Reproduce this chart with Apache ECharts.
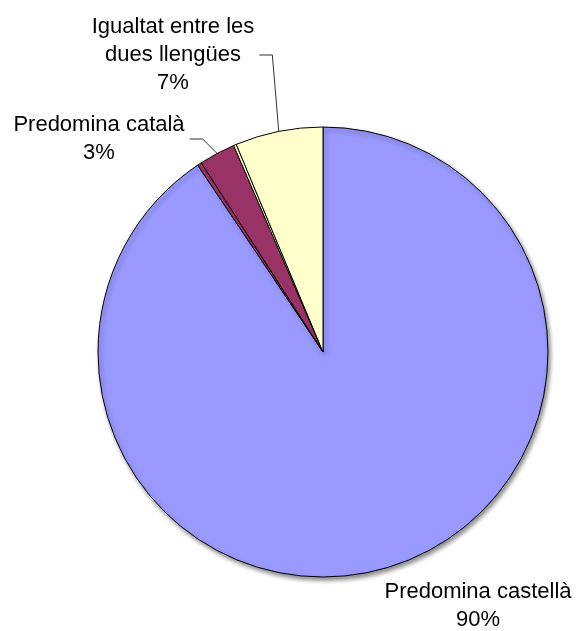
<!DOCTYPE html>
<html>
<head>
<meta charset="utf-8">
<script src="https://cdn.jsdelivr.net/npm/echarts@6/dist/echarts.min.js"></script>
<style>
  html, body { margin: 0; padding: 0; background: #fff; }
  #main { width: 581px; height: 631px; }
</style>
</head>
<body>
<div id="main"></div>
<script>
// dades llegides del gràfic
var names = ['Predomina castellà', 'a', 'Predomina català', 'b', 'Igualtat entre les\ndues llengües'];
var values = [90.6, 0.3, 2.6, 0.2, 6.3];
var pctText = ['90%', '', '3%', '', '7%'];
var colors = ['#9999FF', '#993366', '#993366', '#FFFFCC', '#FFFFCC'];

// posicions de les etiquetes (px)
var labelPos = {
    0: { x: 478, y: 578 },
    2: { x: 99, y: 111 },
    4: { x: 173, y: 13 }
};

var myChart = echarts.init(document.getElementById('main'), null, { renderer: 'canvas' });

var seriesData = names.map(function (n, i) {
    var item = {
        name: n,
        value: values[i],
        itemStyle: { color: colors[i] }
    };
    if (!pctText[i]) {
        item.label = { show: false };
        item.labelLine = { show: false };
    }
    if (i === 0) {
        item.labelLine = { show: false };
        item.itemStyle.shadowBlur = 4;
        item.itemStyle.shadowOffsetX = 2;
        item.itemStyle.shadowOffsetY = 3;
        item.itemStyle.shadowColor = 'rgba(0,0,0,0.45)';
    }
    return item;
});

var option = {
    animation: false,
    series: [{
        type: 'pie',
        center: [323, 352],
        radius: 225,
        startAngle: 90,
        clockwise: true,
        avoidLabelOverlap: false,
        itemStyle: {
            borderColor: '#000',
            borderWidth: 1
        },
        label: {
            show: true,
            position: 'outside',
            fontFamily: 'Liberation Sans, Arial, sans-serif',
            fontSize: 22,
            lineHeight: 28,
            color: '#000',
            padding: [0, 5],
            formatter: function (p) {
                return p.name + '\n' + pctText[p.dataIndex];
            }
        },
        labelLine: {
            show: true,
            length: 10,
            length2: 13,
            lineStyle: { color: '#333', width: 1 }
        },
        labelLayout: function (p) {
            var pos = labelPos[p.dataIndex];
            if (!pos) return {};
            return { x: pos.x, y: pos.y, align: 'center', verticalAlign: 'top' };
        },
        emphasis: { disabled: true },
        data: seriesData
    }]
};

myChart.setOption(option);
</script>
</body>
</html>
